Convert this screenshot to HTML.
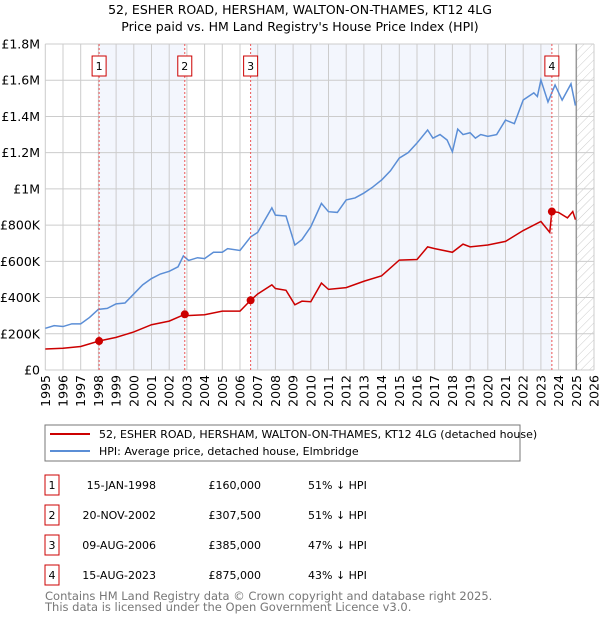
<!DOCTYPE html>
<html><head><meta charset="utf-8"><style>
body{margin:0;background:#fff;font-family:"DejaVu Sans","Liberation Sans",sans-serif;}
svg text{font-family:"DejaVu Sans","Liberation Sans",sans-serif;}
</style></head><body>
<svg id="chart" width="600" height="620" xmlns="http://www.w3.org/2000/svg">
<defs><pattern id="hatch" width="6" height="6" patternUnits="userSpaceOnUse" patternTransform="rotate(45)"><line x1="0" y1="0" x2="0" y2="6" stroke="#ccc" stroke-width="1"/></pattern></defs>
<text x="300" y="14" text-anchor="middle" font-size="12.5">52, ESHER ROAD, HERSHAM, WALTON-ON-THAMES, KT12 4LG</text>
<text x="300" y="31" text-anchor="middle" font-size="12.5">Price paid vs. HM Land Registry's House Price Index (HPI)</text>
<g id="bands"></g><g id="grid"></g><g id="series"></g><g id="marks"></g>
<rect x="45" y="425" width="475" height="36" fill="#fff" stroke="#777"/>
<line x1="50" y1="434" x2="90" y2="434" stroke="#cc0000" stroke-width="2"/>
<text x="99" y="438" font-size="11">52, ESHER ROAD, HERSHAM, WALTON-ON-THAMES, KT12 4LG (detached house)</text>
<line x1="50" y1="451" x2="90" y2="451" stroke="#5b8ed6" stroke-width="2"/>
<text x="99" y="455" font-size="11">HPI: Average price, detached house, Elmbridge</text>
<g id="table"></g>
<text x="45" y="600" font-size="11.5" fill="#777">Contains HM Land Registry data © Crown copyright and database right 2025.</text>
<text x="45" y="611" font-size="11.5" fill="#777">This data is licensed under the Open Government Licence v3.0.</text>
</svg>
<script>
const hpiYears=[1995,1995.5,1996,1996.5,1997,1997.5,1998,1998.5,1999,1999.5,2000,2000.5,2001,2001.5,2002,2002.5,2002.8,2003.1,2003.6,2004,2004.5,2005,2005.3,2006,2006.6,2007,2007.8,2008,2008.6,2009.1,2009.5,2010,2010.6,2011,2011.5,2012,2012.5,2013,2013.5,2014,2014.5,2015,2015.5,2016,2016.6,2016.9,2017.3,2017.7,2018,2018.3,2018.6,2019,2019.3,2019.6,2020,2020.5,2021,2021.5,2022,2022.6,2022.8,2023,2023.4,2023.8,2024.2,2024.7,2024.95];
const hpiValues=[230,245,240,255,255,290,335,340,365,370,420,470,505,530,545,570,630,605,620,615,650,650,670,660,735,760,895,855,850,690,720,791,920,874,870,939,950,977,1010,1049,1100,1170,1200,1253,1325,1280,1300,1270,1205,1330,1300,1310,1280,1300,1290,1300,1380,1360,1491,1530,1510,1601,1480,1574,1490,1580,1460];
const ppYears=[1995,1996,1997,1998.04,1999,2000,2001,2002,2002.88,2003,2004,2005,2006,2006.6,2007,2007.8,2008,2008.6,2009.1,2009.5,2010,2010.6,2011,2012,2013,2014,2015,2016,2016.6,2017,2018,2018.6,2019,2020,2021,2022,2023,2023.5,2023.62,2024,2024.5,2024.8,2024.95];
const ppValues=[116,120,130,160,180,210,250,270,307.5,300,305,325,325,385,420,470,450,440,360,380,377,480,445,455,490,520,607,610,680,670,650,695,680,690,710,770,820,760,875,870,840,875,830];
const saleYears=[1998.04,2002.88,2006.6,2023.62];
const saleValues=[160,307.5,385,875];
const saleLabels=["1","2","3","4"];
const saleDates=["15-JAN-1998","20-NOV-2002","09-AUG-2006","15-AUG-2023"];
const salePrices=["£160,000","£307,500","£385,000","£875,000"];
const saleDiffs=["51% ↓ HPI","51% ↓ HPI","47% ↓ HPI","43% ↓ HPI"];
const yTicks=[0,200,400,600,800,1000,1200,1400,1600,1800];
const yTickLabels=["£0","£200K","£400K","£600K","£800K","£1M","£1.2M","£1.4M","£1.6M","£1.8M"];
const xTicks=[];for(let y=1995;y<=2026;y++)xTicks.push(y);
const X=v=>45.3+(v-1995)*17.7, Y=v=>370-v/1800*326;
const NS="http://www.w3.org/2000/svg";
function mk(p,t,a){const e=document.createElementNS(NS,t);for(const k in a)e.setAttribute(k,a[k]);p.appendChild(e);return e;}
const bands=document.getElementById('bands'),grid=document.getElementById('grid'),series=document.getElementById('series'),marks=document.getElementById('marks'),table=document.getElementById('table');
const b1=mk(bands,'rect',{x:X(saleYears[0]),y:Y(1800),width:X(saleYears[1])-X(saleYears[0]),height:326,fill:'#f3f6fd'});


const b2=mk(bands,'rect',{x:X(saleYears[2]),y:Y(1800),width:X(saleYears[3])-X(saleYears[2]),height:326,fill:'#f3f6fd'});


const h=mk(bands,'rect',{x:X(2025),y:Y(1800),width:X(2026)-X(2025),height:326,fill:'url(#hatch)'});


yTicks.forEach((v,i)=>{
 const l=mk(grid,'line',{x1:X(1995),x2:X(2026),y1:Y(v),y2:Y(v),stroke:'#ccc','stroke-width':1});
 
 
 const t=mk(grid,'text',{x:40,y:Y(v)+4.5,'text-anchor':'end','font-size':12.5});t.textContent=yTickLabels[i];
 
 
});
xTicks.forEach(v=>{
 const l=mk(grid,'line',{x1:X(v),x2:X(v),y1:Y(0),y2:Y(1800),stroke:'#ccc','stroke-width':1});
 
 
 const t=mk(grid,'text',{x:0,y:0,'font-size':12.5,'text-anchor':'end',transform:`translate(${X(v)+4.5},375) rotate(-90)`});t.textContent=v;
 
 
});
const nl=mk(grid,'line',{x1:X(2025),x2:X(2025),y1:Y(0),y2:Y(1800),stroke:'#999','stroke-width':1.5});


const hp=mk(series,'polyline',{points:hpiYears.map((y,i)=>X(y)+','+Y(hpiValues[i])).join(' '),fill:'none',stroke:'#5b8ed6','stroke-width':1.5});


const pp=mk(series,'polyline',{points:ppYears.map((y,i)=>X(y)+','+Y(ppValues[i])).join(' '),fill:'none',stroke:'#cc0000','stroke-width':1.5});


saleYears.forEach((yr,i)=>{
 const l=mk(marks,'line',{x1:X(yr),x2:X(yr),y1:Y(0),y2:Y(1800),stroke:'#e55','stroke-width':1,'stroke-dasharray':'2,2'});
 
 
 const b=mk(marks,'rect',{x:X(yr)-7,y:56,width:14,height:20,fill:'#fff',stroke:'#cc0000'});
 
 
 const t=mk(marks,'text',{x:X(yr),y:70,'text-anchor':'middle','font-size':11});t.textContent=saleLabels[i];
 
 
 const d=mk(marks,'circle',{cx:X(yr),cy:Y(saleValues[i]),r:4,fill:'#cc0000'});
 
 
 const rowY=[485,515,545,575][i];
 const rb=mk(table,'rect',{x:45,y:rowY-10,width:14,height:20,fill:'#fff',stroke:'#cc0000'});
 
 
 const cells=[[52,saleLabels[i],'middle'],[156,saleDates[i],'end'],[261,salePrices[i],'end'],[308,saleDiffs[i],'start']];
 cells.forEach(c=>{const e=mk(table,'text',{x:c[0],y:rowY+4,'text-anchor':c[2],'font-size':11});e.textContent=c[1];
  
  });
});
</script>
</body></html>
